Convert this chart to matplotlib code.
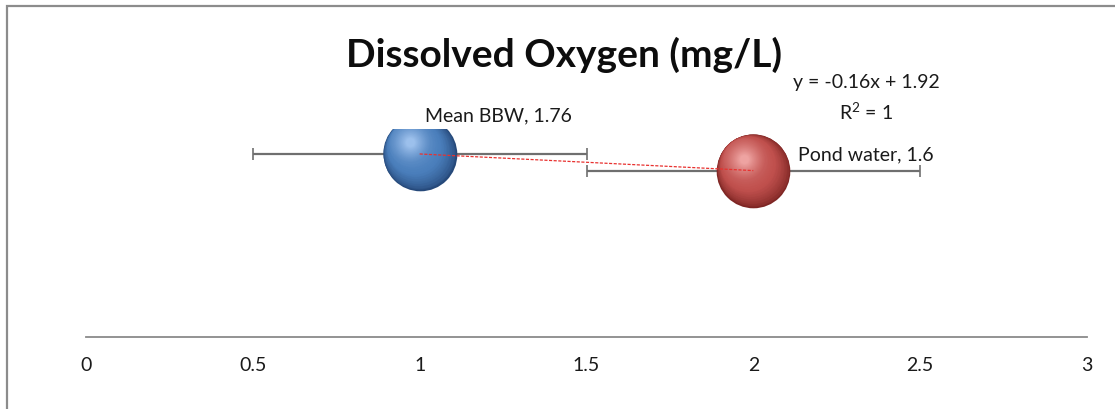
import numpy as np
import matplotlib
matplotlib.use("Agg")
import matplotlib.pyplot as plt
import matplotlib.transforms as mtransforms
from matplotlib.colors import to_rgb
from matplotlib.patches import Rectangle

# data
names = ["Mean BBW", "Pond water"]
x_vals = [1, 2]
y_vals = [1.76, 1.6]
x_err = [0.5, 0.5]
x_ticks = [0, 0.5, 1, 1.5, 2, 2.5, 3]
tick_labels = ["0", "0.5", "1", "1.5", "2", "2.5", "3"]

# sphere colours: dark rim, body, highlight
sphere_colors = [
    ("#26497a", "#4a7ebb", "#9cc0ec"),
    ("#7e2624", "#c0504d", "#eea3a1"),
]

plt.rcParams['font.family'] = ['Lato', 'DejaVu Sans']
plt.rcParams['mathtext.fontset'] = 'custom'
plt.rcParams['mathtext.rm'] = 'Lato'

fig = plt.figure(figsize=(11.15, 4.10), dpi=100)
# chart area outline (Excel style)
fig.patches.append(Rectangle((7 / 1115, -0.1), 1.2, (1 - 7 / 410) + 0.1,
                             transform=fig.transFigure, fill=False,
                             edgecolor="#8c8c8c", linewidth=1.6))

ax = fig.add_axes([86 / 1115, (410 - 338) / 410, 1001 / 1115, 208 / 410])
ax.set_xlim(0, 3)
ax.set_ylim(0, 2)

# error bars behind bubbles
ax.errorbar(x_vals, y_vals, xerr=x_err, fmt="none", ecolor="#6f6f6f",
            elinewidth=1.6, capsize=4.5, capthick=1.2, zorder=1)


def mix(c1, c2, t):
    a, b = np.array(to_rgb(c1)), np.array(to_rgb(c2))
    return tuple(a + (b - a) * t)


# 3D-ish bubbles made of stacked circles, lit from upper left
radius_pt = 26.5
n_layers = 50
light_dir = np.array([-0.62, 0.78])
for xv, yv, (dark, body, light) in zip(x_vals, y_vals, sphere_colors):
    for i in range(n_layers):
        f = i / (n_layers - 1)
        r = radius_pt * (1 - 0.88 * f)
        shift = min((radius_pt - r) * 0.92, 0.42 * radius_pt)
        dx, dy = light_dir * shift
        if f < 0.3:
            col = mix(dark, body, (f / 0.3) ** 0.7)
        else:
            col = mix(body, light, ((f - 0.3) / 0.7) ** 1.4)
        tr = mtransforms.offset_copy(ax.transData, fig=fig, x=dx, y=dy, units="points")
        ax.scatter([xv], [yv], s=(2 * r) ** 2, color=col, transform=tr,
                   linewidths=0, zorder=2 + i * 0.01)

# linear trendline
coef = np.polyfit(x_vals, y_vals, 1)
xt = np.array([min(x_vals), max(x_vals)])
ax.plot(xt, np.polyval(coef, xt), color="#e8312f", lw=0.9,
        linestyle=(0, (2.5, 1.2)), zorder=4)

# data labels
label_offsets = [(4, 28), (32, 12)]
for name, xv, yv, off in zip(names, x_vals, y_vals, label_offsets):
    ax.annotate(f"{name}, {yv:g}", (xv, yv), xytext=off, textcoords="offset points",
                ha="left", va="center", fontsize=14, color="#1a1a1a", zorder=5)

# trendline equation
fig.text(866 / 1115, 1 - 83 / 410, f"y = {coef[0]:.2f}x + {coef[1]:.2f}",
         ha="center", va="center", fontsize=14, color="#1a1a1a")
fig.text(866 / 1115, 1 - 112 / 410, r"R$^{2}$ = 1",
         ha="center", va="center", fontsize=14, color="#1a1a1a")

fig.text(564 / 1115, 1 - 55 / 410, "Dissolved Oxygen (mg/L)", fontsize=28,
         fontweight="bold", color="#0d0d0d", ha="center", va="center")

for side in ["top", "right", "left"]:
    ax.spines[side].set_visible(False)
ax.spines["bottom"].set_color("#8a8a8a")
ax.spines["bottom"].set_linewidth(1.3)
ax.set_yticks([])
ax.set_xticks(x_ticks)
ax.set_xticklabels(tick_labels, fontsize=14, color="#1a1a1a")
ax.tick_params(axis="x", length=0, pad=14)

fig.savefig("out.png", dpi=100)
